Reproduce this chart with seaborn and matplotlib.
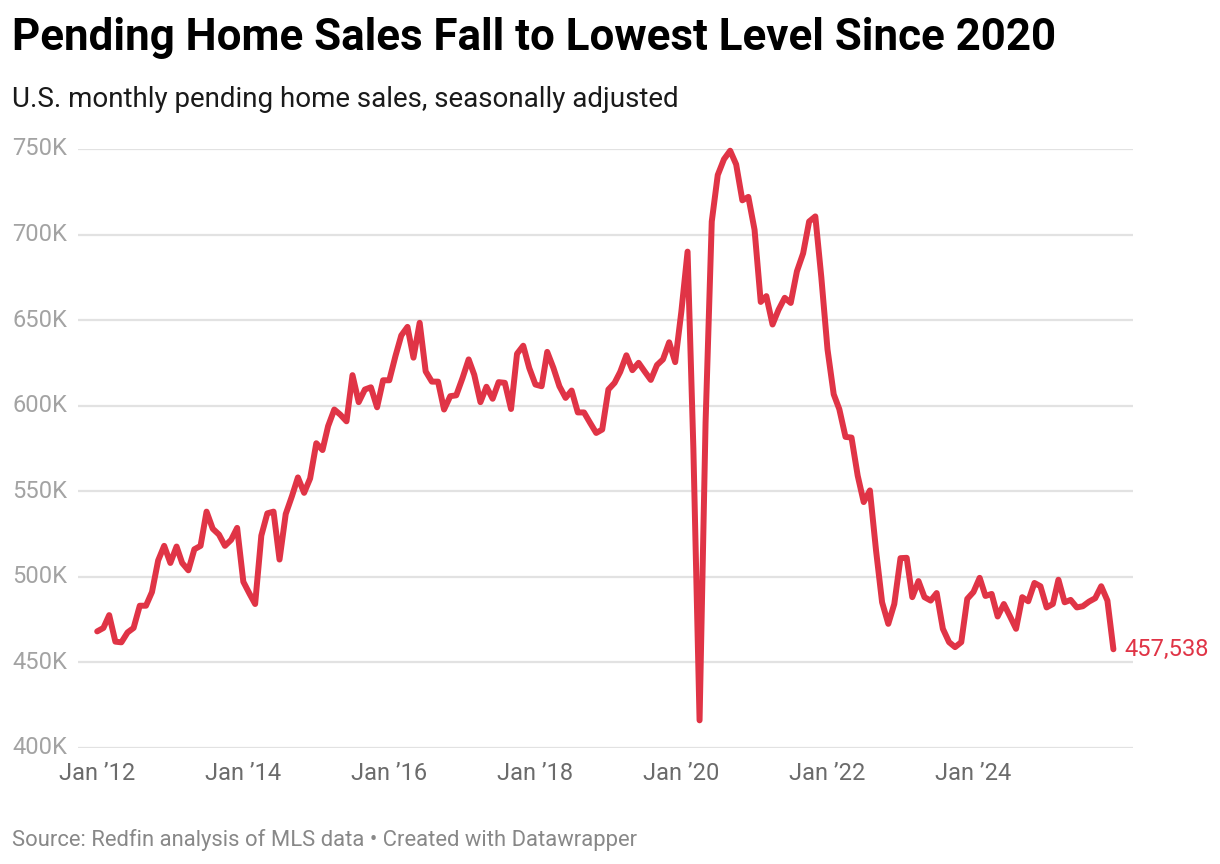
import numpy as np
import pandas as pd
import matplotlib
matplotlib.use("Agg")
import matplotlib.pyplot as plt
import matplotlib.transforms as mtransforms
import seaborn as sns

# ---- data (thousands of pending sales, monthly, Jan 2012 - Dec 2025) ----
start_month = "2012-01-01"
sales_2012 = [468, 470, 477.5, 462, 461.6, 467.4, 470, 483, 483, 491, 509.5, 518]
sales_2013 = [508, 517.6, 508, 503.7, 516, 518, 538, 528, 524.6, 518, 521.5, 528.5]
sales_2014 = [497, 490, 484, 524, 537, 538, 510, 536.6, 547, 558, 549, 557.4]
sales_2015 = [578, 574, 588, 597.7, 594.7, 590.8, 617.8, 602, 609.4, 610.7, 599, 614.8]
sales_2016 = [614.8, 629, 641, 646, 628, 648.4, 620, 614, 614, 597.7, 605.5, 606]
sales_2017 = [616, 627, 618, 602, 611, 604, 613.7, 613.3, 598, 630.3, 635, 622]
sales_2018 = [612.3, 611.3, 631.4, 622, 611.3, 604.5, 608.8, 596, 596, 590, 584, 586]
sales_2019 = [609.4, 613.3, 619.7, 629.4, 620.7, 625, 620, 615, 623.7, 627, 637, 625.4]
sales_2020 = [655, 690, 575, 416, 590, 707.6, 734.8, 744, 749, 741, 720, 722]
sales_2021 = [702.8, 660.6, 664, 647.4, 656, 663, 660, 678.5, 689, 707.6, 710.6, 675]
sales_2022 = [632.8, 606.6, 597.9, 581.7, 581.3, 559, 543.6, 550.4, 515, 485, 472.4, 484]
sales_2023 = [510.8, 511, 488, 497.4, 488, 486, 490.4, 469.5, 461.7, 458.8, 461.7, 487]
sales_2024 = [491, 499.3, 488.7, 489.9, 476.7, 484, 477, 469.5, 488, 485.6, 496.3, 494.4]
sales_2025 = [482, 484, 498.2, 485, 486.4, 482, 482.7, 485.4, 487.4, 494.4, 486, 457.538]

y_ticks = [400, 450, 500, 550, 600, 650, 700, 750]
y_tick_labels = ["400K", "450K", "500K", "550K", "600K", "650K", "700K", "750K"]
x_tick_dates = ["2012-01-01", "2014-01-01", "2016-01-01", "2018-01-01",
                "2020-01-01", "2022-01-01", "2024-01-01"]
x_tick_labels = ["Jan \u201912", "Jan \u201914", "Jan \u201916", "Jan \u201918",
                 "Jan \u201920", "Jan \u201922", "Jan \u201924"]
end_label = "457,538"

title = "Pending Home Sales Fall to Lowest Level Since 2020"
subtitle = "U.S. monthly pending home sales, seasonally adjusted"
source = "Source: Redfin analysis of MLS data \u2022 Created with Datawrapper"

values = (sales_2012 + sales_2013 + sales_2014 + sales_2015 + sales_2016 + sales_2017 +
          sales_2018 + sales_2019 + sales_2020 + sales_2021 + sales_2022 + sales_2023 +
          sales_2024 + sales_2025)
dates = pd.date_range(start_month, periods=len(values), freq="MS")
df = pd.DataFrame({"date": dates, "sales": values})

# ---- style ----
sns.set_theme(style="white")
plt.rcParams["font.family"] = ["Roboto", "DejaVu Sans"]

RED = "#e03446"
W, H = 1220, 864
fig = plt.figure(figsize=(W / 100, H / 100), dpi=100)
fig.patch.set_facecolor("white")

ax_left, ax_right = 78, 1133
ax_top, ax_bottom = 149, 747.7
ax = fig.add_axes([ax_left / W, 1 - ax_bottom / H, (ax_right - ax_left) / W, (ax_bottom - ax_top) / H])

sns.lineplot(data=df, x="date", y="sales", ax=ax, color=RED, linewidth=4.3)
for ln in ax.lines:
    ln.set_clip_on(False)
    ln.set_solid_joinstyle("round")
    ln.set_solid_capstyle("round")

ax.set_xlim(pd.Timestamp("2011-09-27"), pd.Timestamp("2026-03-09"))
ax.set_ylim(400, 750)
ax.set_yticks(y_ticks)
ax.set_yticklabels([])
ax.set_xticks([])
ax.grid(axis="y", color="#e2e2e2", linewidth=1.6)
ax.set_axisbelow(True)
ax.set_xlabel("")
ax.set_ylabel("")
for s in ax.spines.values():
    s.set_visible(False)
ax.tick_params(left=False, bottom=False)

# y tick labels (left aligned at figure edge)
trans_y = mtransforms.blended_transform_factory(fig.transFigure, ax.transData)
for v, lab in zip(y_ticks, y_tick_labels):
    ax.text(12 / W, v, lab, transform=trans_y, ha="left", va="center",
            fontsize=17, color="#a3a3a3")

# x tick labels
trans_x = mtransforms.blended_transform_factory(ax.transData, fig.transFigure)
for d, lab in zip(x_tick_dates, x_tick_labels):
    ax.text(pd.Timestamp(d), 1 - 773 / H, lab, transform=trans_x, ha="center",
            va="center", fontsize=17, color="#6b6b6b")

# end label
ax.annotate(end_label, xy=(df["date"].iloc[-1], df["sales"].iloc[-1]),
            xytext=(8, 0), textcoords="offset points", ha="left", va="center",
            fontsize=17, color=RED, annotation_clip=False)

# titles
fig.text(12 / W, 1 - 50 / H, title, ha="left", va="baseline", fontsize=31.6,
         fontweight="bold", color="#000000")
fig.text(12 / W, 1 - 107 / H, subtitle, ha="left", va="baseline", fontsize=20,
         color="#1a1a1a")
fig.text(12 / W, 1 - 840 / H, source, ha="left", va="center", fontsize=15.8,
         color="#888888")

fig.savefig("out.png", dpi=100, facecolor="white")
